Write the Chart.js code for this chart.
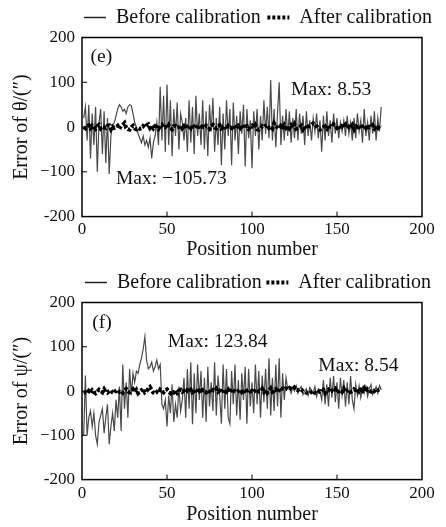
<!DOCTYPE html>
<html><head><meta charset="utf-8">
<script src="https://cdn.jsdelivr.net/npm/chart.js@4/dist/chart.umd.min.js"></script>
<style>
body{margin:0;background:#fff;}
.box{position:absolute;left:0;width:446px;}
</style>
</head><body>
<div class="box" style="top:0;height:262px"><canvas id="c1"></canvas></div>
<div class="box" style="top:262px;height:265px"><canvas id="c2"></canvas></div>
<script>
// ---- data ----
const seriesNames = ['Before calibration', 'After calibration'];
const xTicks = [0, 50, 100, 150, 200];
const yTicks = [-200, -100, 0, 100, 200];
const yTickLabels = ['-200', '\u2212100', '0', '100', '200'];

const thetaBefore = [
  20, 45, -30, 50, -70, 30, -40, 45, -100, 10, 40, -60, 35, -80, 20, -105, -20, 5,
  10, 25, 40, 50, 45, 35, 40, 30, 45, 50, 48, 30, 10, 0, -15,
  -25, -35, -20, -40, -30, -45, -25, -70, -35, -20, 10, -40,
  90, -30, 70, -55, 95, -40, 60, -65, 40, -20, 55, -50, 30, 10, -30,
  20, -55, 60, -35, 45, -60, 70, -20, 30, -40, 60, -50, 35, -65, 50, -10, 65, -55, 20, -40,
  45, -85, 30, -50, 60, -20, 40, -85, 55, -30, 25, -60, 35, -15, 50, -88, 40, -25, 15, -92,
  35, -20, 40, -50, 25, -30, 60, -15, 45, -25, 105, -30, 40, -45, 30, 100,
  -40, 25, -30, 40, -20, 35, -35, 20, -25, 40, -30, 30, -15, 25, -40, 35, -20, 15, -30, 20, -10, 30, -25, 15,
  -55, 25, -30, 35, -20, 15, -35, 30, -15, 20, -25, 10, -10, 15, -20, 25, -15, 10, -30, 20, -25, 30, -10, 15, -35, 40, -20, 10, -30, 25, -15, 35, -30, 20, -10, 45
];
const thetaAfter = [
  0, -3, 2, 4, -2, 3, 0, -4, 2, 5, -3, 1, 0, -2, 3, 4, -5, 1, -2, 0,
  3, -4, 2, 5, 9, -2, -5, -6, 0, 3, -3, -5, -2, -4, -3, 2, -1, 4, 6, -2,
  3, -3, 2, 0, -4, 3, 5, -2, 0, -3, 4, -2, -5, 2, 3, -1, 0, 4, -3, 2,
  -4, 1, 3, -2, 5, 0, -3, 2, 4, -5, 1, -2, 3, 0, -4, 2, 5, -1, -3, 2,
  4, -3, 0, 2, -5, 3, 1, -2, 4, -4, 0, 3, -2, 5, -3, 1, 2, -4, 0, 3,
  -2, 4, -5, -6, -3, 2, 0, 3, 5, -2, 1, -3, 8, 2, -1, -4, 3, 0, 5, -2,
  2, -3, 4, -1, 6, -4, -2, 0, 3, -5, 2, -4, 0, 3, 5, 8, 6, 2, -3, -6,
  -4, 0, 2, -3, 5, 1, 0, 6, 2, -2, 3, -4, 2, 0, 5, -3, 1, -2, 4, -5,
  2, 0, 3, -4, 1, 5, -2, 3, -1, 0, 4, -3, 2, -2, 3, 1
];
const psiBefore = [
  -100, 35, -100,
  -60, -45, -80, -50, -100, -120, -70, -55, -40, -95, -60, -30, -120,
  -80, -50, -90, -20, -60, 10, -90, 60, -40, 20, -60, 50, -10, 40,
  20, 45, 40, 60, 75, 95, 123, 70, 50, 55, 65, 45, 55, 70, 50, 60,
  -30, -40, -20, -80, -10, -50, 15, -70, -30, -60, 10, -45, -20, 30,
  -60, 50, -40, 65, -75, 40, -50, 60, -20, 45, -60, 30, -70, 55, -35, 20, -45, 65, -55, 35,
  -10, -74, 60, -40, 50, -60, -74, 45, -30, 60, -55, 25, -65, 40, -20, 55, -74, 50, -35, 20,
  -50, 60, -30, 45, -60, 35, -25, 50, -40, 74, -55, 30, -45, 60, -35, 74, -60, 40, -20, 30,
  5, 10, -5, 8, 0, 12, -5, 5, 10, -8, 0, 5, -10, 8, 2, -5, 10, -12, 5, 0,
  -20, 25, -30, 15, -35, 30, -15, 34, -25, 20, -40, 30, -10, 25, -35, 20, -30, 34, -20, -40,
  15, -10, 12, -15, 8, -5, 10, -12, 5, 15, -8, 0, 10, -5, 12, 3
];
const psiAfter = [
  -5, -3, -6, 0, -4, 2, -2, -5, -1, 3, 0, -3, 4, -2, -4, 0, 2, -3, -5, 1,
  3, -2, 0, -4, 2, 5, -1, -3, 0, 4, -2, 3, -5, -1, 2, 6, -3, 0, 5, 9,
  2, -4, -6, -2, -5, 3, 0, -3, 2, 4, -1, -5, 0, -3, 2, -4, 1, 3, -2, 0,
  -4, 2, -1, 3, -3, 0, 4, -2, 1, -5, 2, 0, -3, 3, -1, -4, 2, 0, 5, -2,
  1, -3, 4, 0, -2, 3, -4, 2, 5, -1, -3, 0, 4, -2, 2, -5, 1, 3, -1, 0,
  -3, 2, 4, -1, 0, 5, -2, 3, -4, 1, 6, -2, 0, 4, -3, 2, 8, 5, 3, 6,
  4, 7, 5, 3, 8, 4, 2, 5, 3, 0, -2, -4, -3, -5, -2, 0, -4, -6, -3, 0,
  -2, 2, -5, 0, 3, -3, 1, -1, 4, -4, 0, 2, -2, 5, -3, 1, 3, -2, 0, 4,
  2, 5, -1, 3, 0, 6, -2, 4, 1, -1, 3, 0, 5, 2, 4, 6
];
const notesE = [
  {text: '(e)', x: 5, y: 157},
  {text: 'Max: \u2212105.73', x: 20, y: -116},
  {text: 'Max: 8.53', x: 123, y: 84}
];
const notesF = [
  {text: '(f)', x: 6, y: 155},
  {text: 'Max: 123.84', x: 50.5, y: 110},
  {text: 'Max: 8.54', x: 139, y: 56}
];

// ---- drawing ----
const FONT = "'Liberation Serif', 'Times New Roman', serif";
const toPts = arr => arr.map((v, i) => ({x: i + 1, y: v}));

const framePlugin = {
  id: 'frame',
  afterLayout(chart) {
    const lg = chart.legend;
    if (lg) { lg.left = 76; lg.right = 440; lg.width = 364; }
  },
  afterDatasetsDraw(chart, args, opts) {
    const {ctx, chartArea: a, scales} = chart;
    ctx.save();
    ctx.strokeStyle = '#000';
    ctx.lineWidth = 1.5;
    ctx.setLineDash([]);
    ctx.strokeRect(a.left, a.top, a.right - a.left, a.bottom - a.top);
    ctx.lineWidth = 1;
    ctx.beginPath();
    xTicks.slice(1, -1).forEach(t => {
      const px = scales.x.getPixelForValue(t);
      ctx.moveTo(px, a.bottom); ctx.lineTo(px, a.bottom - 5);
    });
    yTicks.slice(1, -1).forEach(t => {
      const py = scales.y.getPixelForValue(t);
      ctx.moveTo(a.left, py); ctx.lineTo(a.left + 5, py);
    });
    ctx.stroke();
    ctx.fillStyle = '#111';
    ctx.font = '19.5px ' + FONT;
    ctx.textAlign = 'left';
    ctx.textBaseline = 'middle';
    (opts.notes || []).forEach(n => {
      ctx.fillText(n.text, scales.x.getPixelForValue(n.x), scales.y.getPixelForValue(n.y));
    });
    ctx.restore();
  }
};

function makeChart(id, before, after, yTitle, notes, lay) {
  return new Chart(document.getElementById(id), {
    type: 'line',
    data: {
      datasets: [
        {label: seriesNames[0], data: toPts(before), borderColor: '#4a4a4a', backgroundColor: '#4a4a4a',
         borderWidth: 1.2, pointRadius: 0, tension: 0, order: 2},
        {label: seriesNames[1], data: toPts(after), borderColor: '#000', backgroundColor: '#000',
         borderWidth: 4, borderDash: [3, 2], pointRadius: 0, tension: 0, order: 1}
      ]
    },
    options: {
      responsive: true, maintainAspectRatio: false, animation: false,
      layout: {padding: {left: 10, right: 24, top: lay.top, bottom: lay.bottom}},
      plugins: {
        tooltip: {enabled: false},
        frame: {notes: notes},
        legend: {
          display: true, position: 'top', fullSize: true, align: 'center',
          labels: {
            usePointStyle: true, pointStyle: 'line', pointStyleWidth: 22,
            boxWidth: 22, boxHeight: 10,
            color: '#111', font: {family: FONT, size: 20}, padding: lay.pad,
            sort: (a, b) => a.datasetIndex - b.datasetIndex,
            generateLabels: chart => {
              const items = Chart.defaults.plugins.legend.labels.generateLabels(chart);
              items.forEach(it => {
                const ds = chart.data.datasets[it.datasetIndex];
                it.lineDash = ds.borderDash || [];
                it.lineWidth = it.datasetIndex === 0 ? 1.5 : 4;
                it.strokeStyle = it.datasetIndex === 0 ? '#222' : '#000';
              });
              return items;
            }
          }
        }
      },
      scales: {
        x: {
          type: 'linear', min: 0, max: 200,
          afterBuildTicks: s => { s.ticks = xTicks.map(v => ({value: v})); },
          ticks: {color: '#111', font: {family: FONT, size: 17}, padding: lay.xpad, maxRotation: 0},
          grid: {display: false, drawTicks: false}, border: {display: false},
          title: {display: true, text: 'Position number', color: '#111', font: {family: FONT, size: 20}, padding: {top: lay.tpad, bottom: 0}}
        },
        y: {
          min: -200, max: 200,
          afterBuildTicks: s => { s.ticks = yTicks.map(v => ({value: v})); },
          afterFit: s => { s.width = 72; },
          ticks: {color: '#111', font: {family: FONT, size: 17}, padding: 7,
                  callback: v => yTickLabels[yTicks.indexOf(v)]},
          grid: {display: false, drawTicks: false}, border: {display: false},
          title: {display: true, text: yTitle, color: '#111', font: {family: FONT, size: 20}, padding: {top: 0, bottom: 0}}
        }
      }
    },
    plugins: [framePlugin]
  });
}

makeChart('c1', thetaBefore, thetaAfter, 'Error of \u03b8/(\u2033)', notesE, {top: 1, pad: 6.5, bottom: 0, xpad: 3, tpad: -5});
makeChart('c2', psiBefore, psiAfter, 'Error of \u03c8/(\u2033)', notesF, {top: 6, pad: 4.5, bottom: 0, xpad: 4, tpad: -5});
</script>
</body></html>
